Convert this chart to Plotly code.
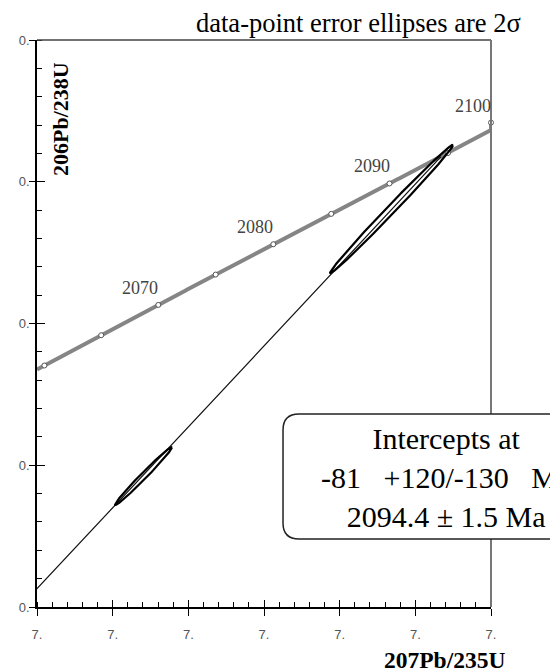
import numpy as np
import plotly.graph_objects as go

# ---- decay constants (per year) ----
LAM238 = 1.55125e-10
LAM235 = 9.8485e-10

# ---- concordia age markers (Ma) ----
marker_ages = [2060, 2065, 2070, 2075, 2080, 2085, 2090, 2095, 2100]
label_ages = [2070, 2080, 2090, 2100]
conc_end_age = 2100

# ---- discordia intercepts (Ma) ----
lower_intercept = -81
upper_intercept = 2094.4

# ---- data-point ellipses (2 sigma) ----
spot_x = [6.6704, 6.8343]
spot_y = [0.37262, 0.38204]
spot_ex = [0.0188, 0.0406]
spot_ey = [0.00102, 0.00226]
spot_rho = [0.989, 0.9955]

# ---- axes ----
x_range = [6.60, 6.90]
y_range = [0.368, 0.388]
x_major, x_minor = 0.05, 0.01
y_major, y_minor = 0.005, 0.001

title_text = "data-point error ellipses are 2σ"
box_lines = ["Intercepts at",
             "-81\u00a0\u00a0\u00a0+120/-130\u00a0\u00a0\u00a0Ma",
             "2094.4 ± 1.5 Ma"]
x_title = "207Pb/235U"
y_title = "206Pb/238U"


def conc_xy(t_ma):
    t = np.asarray(t_ma, dtype=float) * 1e6
    return np.exp(LAM235 * t) - 1, np.exp(LAM238 * t) - 1


def clamp(x, y):
    return np.clip(x, *x_range), np.clip(y, *y_range)


fig = go.Figure()

# concordia curve (clamped to the frame like the original)
t_start = np.log(1 + x_range[0]) / LAM235 / 1e6
t_line = np.linspace(t_start, conc_end_age, 400)
cx, cy = clamp(*conc_xy(t_line))
fig.add_trace(go.Scatter(x=cx, y=cy, mode="lines",
                         line=dict(color="#858585", width=4),
                         hoverinfo="skip", showlegend=False))

# discordia chord
ix, iy = conc_xy([lower_intercept, upper_intercept])
fig.add_trace(go.Scatter(x=ix, y=iy, mode="lines",
                         line=dict(color="#111111", width=1.2),
                         hoverinfo="skip", showlegend=False))

# age markers
mx, my = clamp(*conc_xy(marker_ages))
fig.add_trace(go.Scatter(x=mx, y=my, mode="markers",
                         marker=dict(size=5, color="white",
                                     line=dict(color="#555555", width=1)),
                         hoverinfo="skip", showlegend=False, cliponaxis=False))

# error ellipses
theta = np.linspace(0, 2 * np.pi, 300)
for x0, y0, ex, ey, r in zip(spot_x, spot_y, spot_ex, spot_ey, spot_rho):
    ex_pts = x0 + ex * np.cos(theta)
    ey_pts = y0 + ey * (r * np.cos(theta) + np.sqrt(1 - r * r) * np.sin(theta))
    fig.add_trace(go.Scatter(x=ex_pts, y=ey_pts, mode="lines",
                             line=dict(color="black", width=2.2),
                             hoverinfo="skip", showlegend=False))

# invisible trace for the overlay axes (crossing major ticks)
fig.add_trace(go.Scatter(x=[x_range[0]], y=[y_range[0]], xaxis="x2", yaxis="y2",
                         mode="markers", marker=dict(opacity=0),
                         hoverinfo="skip", showlegend=False))

annotations = []
lx, ly = clamp(*conc_xy(label_ages))
for a, xx, yy in zip(label_ages, lx, ly):
    annotations.append(dict(x=xx, y=yy, xref="x", yref="y", text=str(a),
                            showarrow=False, xshift=-18, yshift=17,
                            font=dict(family="Liberation Serif", size=18, color="#444444")))

annotations += [
    dict(x=1.0705, y=1.030, xref="paper", yref="paper", text=title_text,
         showarrow=False, xanchor="right", yanchor="middle",
         font=dict(family="Liberation Serif", size=26.5, color="black")),
    dict(x=0.0529, y=0.8607, xref="paper", yref="paper", text="<b>%s</b>" % y_title,
         showarrow=False, textangle=-90, xanchor="center", yanchor="middle",
         font=dict(family="Liberation Serif", size=22, color="black")),
    dict(x=0.8965, y=-0.0935, xref="paper", yref="paper", text="<b>%s</b>" % x_title,
         showarrow=False, xanchor="center", yanchor="middle",
         font=dict(family="Liberation Serif", size=23.5, color="black")),
    dict(x=0.9000, y=0.2290, xref="paper", yref="paper", text="<br>".join(box_lines),
         showarrow=False, xanchor="center", yanchor="middle", align="center",
         font=dict(family="Liberation Serif", size=30, color="black")),
]

# rounded box (paper coords)
bx0, bx1, by0, by1 = 0.5419, 1.2511, 0.1199, 0.3404
rx, ry = 16 / 454, 16 / 567
box_path = (f"M {bx0+rx},{by1} L {bx1-rx},{by1} Q {bx1},{by1} {bx1},{by1-ry} "
            f"L {bx1},{by0+ry} Q {bx1},{by0} {bx1-rx},{by0} "
            f"L {bx0+rx},{by0} Q {bx0},{by0} {bx0},{by0+ry} "
            f"L {bx0},{by1-ry} Q {bx0},{by1} {bx0+rx},{by1} Z")

shapes = [
    dict(type="line", xref="paper", yref="paper", x0=0, x1=1, y0=1, y1=1,
         line=dict(color="#444444", width=1.5), layer="above"),
    dict(type="line", xref="paper", yref="paper", x0=1, x1=1, y0=0, y1=1,
         line=dict(color="#777777", width=2), layer="above"),
    dict(type="path", xref="paper", yref="paper", path=box_path,
         line=dict(color="#222222", width=1.5), fillcolor="white", layer="above"),
]

tickfont = dict(family="Liberation Sans", size=13, color="#555555")
common = dict(showgrid=False, zeroline=False, tickformat=".0f", ticksuffix=".",
              tickmode="linear", tickcolor="black", tickwidth=1.3)

fig.update_layout(
    width=550, height=670,
    margin=dict(l=37, r=59, t=40, b=63),
    paper_bgcolor="white", plot_bgcolor="white",
    showlegend=False,
    xaxis=dict(range=x_range, tick0=x_range[0], dtick=x_major,
               ticks="outside", ticklen=7, showline=True, linecolor="black",
               linewidth=1.5, tickfont=tickfont, ticklabelstandoff=8,
               minor=dict(ticks="inside", ticklen=5, dtick=x_minor, tick0=x_range[0],
                          tickcolor="black", tickwidth=1.2),
               **common),
    yaxis=dict(range=y_range, tick0=y_range[0], dtick=y_major,
               ticks="outside", ticklen=6, showline=True, linecolor="black",
               linewidth=1.5, tickfont=tickfont, ticklabelstandoff=-3,
               minor=dict(ticks="inside", ticklen=5, dtick=y_minor, tick0=y_range[0],
                          tickcolor="black", tickwidth=1.2),
               **common),
    xaxis2=dict(range=x_range, overlaying="x", anchor="y2", side="bottom",
                tick0=x_range[0], dtick=x_major, ticks="inside", ticklen=7,
                showticklabels=False, showline=False, **common),
    yaxis2=dict(range=y_range, overlaying="y", anchor="x2", side="left",
                tick0=y_range[0], dtick=y_major, ticks="inside", ticklen=8,
                showticklabels=False, showline=False, **common),
    annotations=annotations,
    shapes=shapes,
)

fig.write_html("out.html",
               config={"displayModeBar": False},
               post_script="document.body.style.margin='0';document.body.style.overflow='hidden';")
